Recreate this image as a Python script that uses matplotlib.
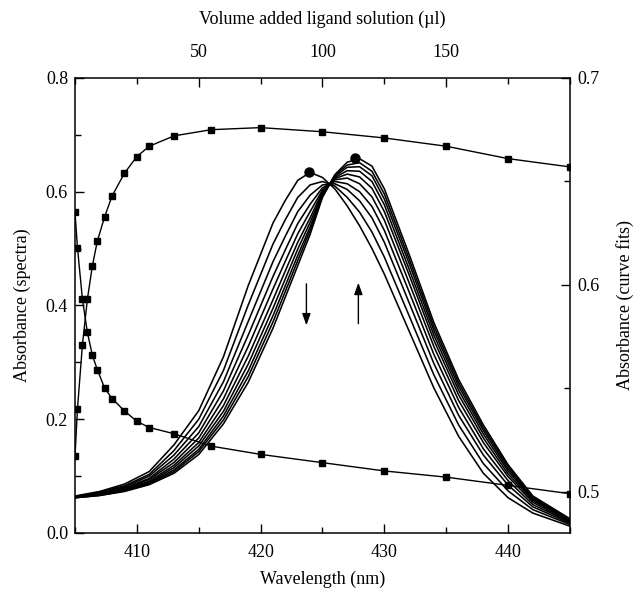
import matplotlib
matplotlib.use("Agg")
import matplotlib.pyplot as plt
from matplotlib.ticker import MultipleLocator

plt.rcParams['font.family'] = ['Liberation Serif', 'DejaVu Serif']

# spectra (left / bottom axes), first one -> last one of the titration
wavelength = [405, 407, 409, 411, 413, 415, 417, 419, 421, 422, 423, 424, 425,
              426, 427, 428, 429, 430, 432, 434, 436, 438, 440, 442, 445]

spectra = [
    [0.065, 0.073, 0.086, 0.108, 0.155, 0.215, 0.310, 0.435, 0.545, 0.585, 0.620, 0.634, 0.625,
     0.605, 0.575, 0.540, 0.500, 0.455, 0.355, 0.255, 0.170, 0.105, 0.062, 0.035, 0.012],
    [0.064, 0.072, 0.083, 0.103, 0.145, 0.200, 0.286, 0.401, 0.508, 0.551, 0.590, 0.612, 0.618,
     0.610, 0.590, 0.564, 0.529, 0.485, 0.382, 0.278, 0.190, 0.122, 0.074, 0.041, 0.015],
    [0.064, 0.070, 0.081, 0.100, 0.137, 0.187, 0.266, 0.372, 0.477, 0.522, 0.565, 0.594, 0.612,
     0.614, 0.604, 0.584, 0.554, 0.511, 0.405, 0.298, 0.207, 0.137, 0.084, 0.046, 0.017],
    [0.064, 0.069, 0.079, 0.096, 0.130, 0.176, 0.250, 0.348, 0.451, 0.498, 0.544, 0.578, 0.607,
     0.618, 0.614, 0.600, 0.574, 0.532, 0.424, 0.314, 0.221, 0.148, 0.092, 0.050, 0.019],
    [0.063, 0.069, 0.078, 0.094, 0.124, 0.167, 0.236, 0.328, 0.429, 0.478, 0.526, 0.565, 0.603,
     0.621, 0.624, 0.614, 0.591, 0.550, 0.440, 0.328, 0.233, 0.159, 0.099, 0.054, 0.020],
    [0.063, 0.068, 0.077, 0.091, 0.119, 0.159, 0.224, 0.311, 0.410, 0.461, 0.511, 0.554, 0.600,
     0.623, 0.631, 0.626, 0.606, 0.565, 0.454, 0.339, 0.243, 0.167, 0.104, 0.057, 0.022],
    [0.063, 0.067, 0.076, 0.089, 0.115, 0.153, 0.214, 0.297, 0.395, 0.447, 0.499, 0.546, 0.597,
     0.625, 0.637, 0.636, 0.618, 0.577, 0.464, 0.348, 0.251, 0.174, 0.109, 0.059, 0.023],
    [0.062, 0.067, 0.075, 0.088, 0.111, 0.147, 0.206, 0.285, 0.382, 0.435, 0.488, 0.538, 0.594,
     0.627, 0.643, 0.644, 0.628, 0.587, 0.474, 0.356, 0.258, 0.180, 0.113, 0.061, 0.023],
    [0.062, 0.066, 0.074, 0.086, 0.108, 0.143, 0.199, 0.275, 0.371, 0.425, 0.479, 0.532, 0.592,
     0.629, 0.647, 0.651, 0.636, 0.596, 0.482, 0.363, 0.264, 0.185, 0.117, 0.063, 0.024],
    [0.062, 0.066, 0.073, 0.085, 0.105, 0.138, 0.192, 0.265, 0.360, 0.415, 0.470, 0.525, 0.590,
     0.630, 0.652, 0.658, 0.645, 0.605, 0.490, 0.370, 0.270, 0.190, 0.120, 0.065, 0.025],
]

peak_wl = [423.9, 427.6]
peak_abs = [0.634, 0.660]

# titration curve fits (top / right axes)
volume = [0, 1, 3, 5, 7, 9, 12, 15, 20, 25, 30, 40, 55, 75, 100, 125, 150, 175, 200]
abs_rise = [0.517, 0.540, 0.571, 0.593, 0.609, 0.621, 0.633, 0.643, 0.654, 0.662,
            0.667, 0.672, 0.675, 0.676, 0.674, 0.671, 0.667, 0.661, 0.657]
abs_fall = [0.635, 0.618, 0.593, 0.577, 0.566, 0.559, 0.550, 0.545, 0.539, 0.534,
            0.531, 0.528, 0.522, 0.518, 0.514, 0.510, 0.507, 0.503, 0.499]

fig = plt.figure(figsize=(6.35, 5.93), dpi=100)
pos = [0.1181, 0.1012, 0.7795, 0.7673]
ax = fig.add_axes(pos)

for s in spectra:
    ax.plot(wavelength, s, color='black', lw=1.15)
ax.plot(peak_wl, peak_abs, 'o', color='black', ms=6.5, ls='none')

# arrows: band at ~424 nm goes down, band at ~428 nm goes up
arrow_style = dict(arrowstyle='-|>,head_length=0.5,head_width=0.18', color='black',
                   lw=1.0, mutation_scale=14, shrinkA=0, shrinkB=0)
ax.annotate('', xy=(423.7, 0.365), xytext=(423.7, 0.438), arrowprops=arrow_style)
ax.annotate('', xy=(427.9, 0.440), xytext=(427.9, 0.368), arrowprops=arrow_style)

ax.set_xlim(405, 445)
ax.set_ylim(0, 0.8)
ax.xaxis.set_major_locator(MultipleLocator(10))
ax.xaxis.set_minor_locator(MultipleLocator(5))
ax.yaxis.set_major_locator(MultipleLocator(0.2))
ax.yaxis.set_minor_locator(MultipleLocator(0.1))
ax.yaxis.set_major_formatter(plt.FormatStrFormatter('%.1f'))
ax.tick_params(which='both', direction='in', labelsize=13, width=1.0)
ax.tick_params(which='major', length=6.5)
ax.tick_params(which='minor', length=4)
ax.tick_params(axis='x', pad=8)
ax.tick_params(axis='y', pad=5)
ax.set_xlabel('Wavelength (nm)', fontsize=13, labelpad=7)
ax.set_ylabel('Absorbance (spectra)', fontsize=13, labelpad=11)
for sp in ax.spines.values():
    sp.set_linewidth(1.1)

ax2 = fig.add_axes(pos, frameon=False)
ax2.plot(volume, abs_rise, '-s', color='black', lw=1.0, ms=5)
ax2.plot(volume, abs_fall, '-s', color='black', lw=1.0, ms=5)
ax2.set_xlim(0, 200)
ax2.set_ylim(0.48, 0.70)
ax2.xaxis.tick_top()
ax2.xaxis.set_label_position('top')
ax2.yaxis.tick_right()
ax2.yaxis.set_label_position('right')
ax2.xaxis.set_major_locator(MultipleLocator(50))
ax2.xaxis.set_minor_locator(MultipleLocator(25))
ax2.yaxis.set_major_locator(MultipleLocator(0.1))
ax2.yaxis.set_minor_locator(MultipleLocator(0.05))
ax2.yaxis.set_major_formatter(plt.FormatStrFormatter('%.1f'))
ax2.set_xticks([50, 100, 150])
ax2.tick_params(which='both', direction='in', labelsize=13, width=1.0)
ax2.tick_params(which='major', length=6.5)
ax2.tick_params(which='minor', length=4)
ax2.tick_params(axis='x', pad=12)
ax2.tick_params(axis='y', pad=5)
ax2.set_xlabel('Volume added ligand solution (\u00b5l)', fontsize=13, labelpad=15)
ax2.set_ylabel('Absorbance (curve fits)', fontsize=13, labelpad=12)

fig.savefig('out.png', dpi=100)
